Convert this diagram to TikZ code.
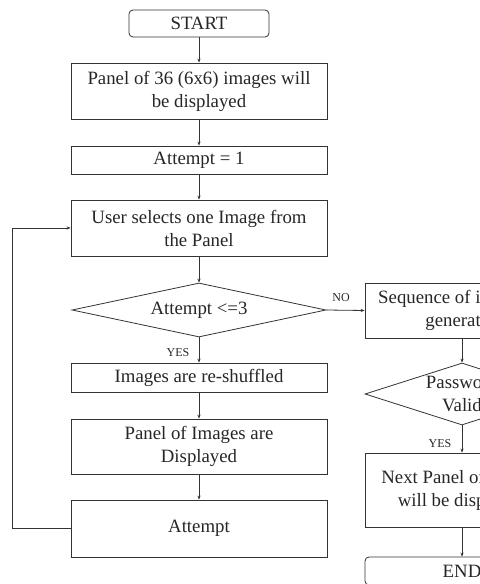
\documentclass[tikz,border=0pt]{standalone}
\usepackage{fontspec}
\setmainfont{Liberation Serif}
\usetikzlibrary{shapes.geometric,arrows.meta}
\begin{document}
\begin{tikzpicture}[x=1bp,y=-1bp,
  base/.style={draw=black!80, line width=0.8bp, align=center, inner sep=0pt,
    text=black!85, font=\fontsize{18.8bp}{23bp}\selectfont},
  proc/.style={base, rectangle, minimum width=#1},
  proc/.default=256bp,
  term/.style={base, rectangle, rounded corners=4bp, minimum width=#1},
  decision/.style={base, diamond},
  lbl/.style={text=black!85, inner sep=0pt, font=\fontsize{12bp}{12bp}\selectfont},
  flow/.style={draw=black!80, line width=0.8bp, -{Stealth[length=4bp,width=3.2bp]}}]
\useasboundingbox (0,0) rectangle (480,584);
\clip (0,0) rectangle (480,584);

% main column
\node[term=140bp, minimum height=27bp] (start) at (199,23.5) {START};
\node[proc, minimum height=56bp] (panel) at (199,91) {Panel of 36 (6x6) images will\\be displayed};
\node[proc, minimum height=28bp] (init) at (199,160) {Attempt = 1};
\node[proc, minimum height=56bp] (select) at (199,228) {User selects one Image from\\the Panel};
\node[decision, aspect=4.7, minimum width=254bp, minimum height=54bp] (check) at (199,310) {Attempt <=3};
\node[proc, minimum height=29bp] (shuffle) at (199,377.5) {Images are re-shuffled};
\node[proc, minimum height=55bp] (show) at (199,446.5) {Panel of Images are\\Displayed};
\node[proc, minimum height=57bp] (count) at (199,528.5) {Attempt};

% right column
\node[proc=194bp, minimum height=55bp] (seq) at (462,310.5) {Sequence of images is\\generated};
\node[decision, aspect=3.1, minimum width=194bp, minimum height=62bp] (valid) at (462,394) {Password\\Valid};
\node[proc=194bp, minimum height=74bp] (next) at (462,490) {Next Panel of images\\will be displayed};
\node[term=194bp, minimum height=28bp] (end) at (462,571) {END};

% connectors
\draw[flow] (start) -- (panel);
\draw[flow] (panel) -- (init);
\draw[flow] (init) -- (select);
\draw[flow] (select) -- (check);
\draw[flow] (check) -- (shuffle);
\draw[flow] (shuffle) -- (show);
\draw[flow] (show) -- (count);
\draw[flow] (count.west) -- ++(-58,0) |- (select.west);
\draw[flow] (check.east) -- (seq.west);
\draw[flow] (seq) -- (valid);
\draw[flow] (valid) -- (next);
\draw[flow] (next) -- (end);

% branch labels
\node[lbl] (yes1) at (178,353) {YES};
\node[lbl] (no1) at (341,298) {NO};
\node[lbl] (yes2) at (440,444) {YES};
\end{tikzpicture}
\end{document}
